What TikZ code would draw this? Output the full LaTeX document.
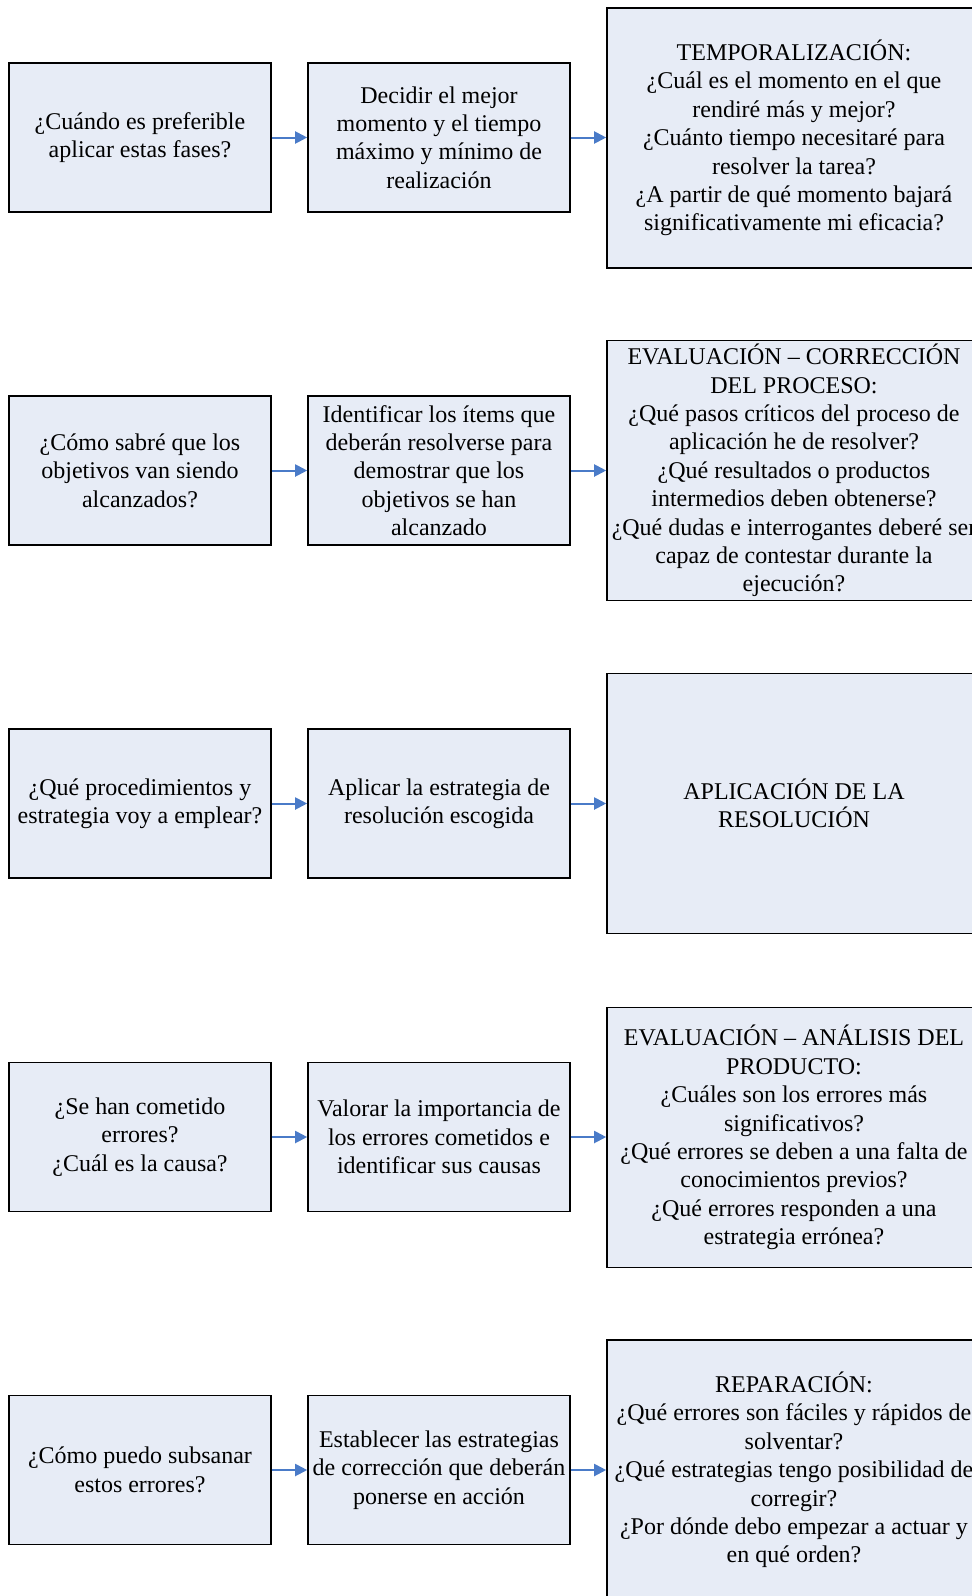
\documentclass[tikz,border=0pt]{standalone}
\usepackage{fontspec}
\setmainfont{Liberation Serif}
\usetikzlibrary{arrows.meta}
\definecolor{boxfill}{HTML}{E7ECF6}
\definecolor{flowblue}{HTML}{4A7BC8}
\tikzset{
  box/.style={draw=black, line width=1.6pt, fill=boxfill, rectangle,
    align=center, inner sep=0pt, font=\fontsize{24}{28.4}\selectfont},
  qbox/.style={box, minimum width=262pt, minimum height=149pt},
  abox/.style={box, minimum width=262pt, minimum height=149pt},
  rbox/.style={box, minimum width=374pt, minimum height=260pt},
  flow/.style={draw=flowblue, line width=2pt,
    -{Triangle[length=12pt, width=12pt]}, shorten >=0pt}
}
\begin{document}
\begin{tikzpicture}[x=1pt, y=-1pt]
  \useasboundingbox (0,0) rectangle (972,1596);
  \clip (0,0) rectangle (972,1596);
  \fill[white] (0,0) rectangle (972,1596);

  % row 1: timing
  \node[qbox] (q1) at (140,137.5) {¿Cuándo es preferible\\aplicar estas fases?};
  \node[abox] (a1) at (439,137.5) {Decidir el mejor\\momento y el tiempo\\máximo y mínimo de\\realización};
  \node[rbox] (r1) at (794,138) {TEMPORALIZACIÓN:\\¿Cuál es el momento en el que\\rendiré más y mejor?\\¿Cuánto tiempo necesitaré para\\resolver la tarea?\\¿A partir de qué momento bajará\\significativamente mi eficacia?};

  % row 2: process evaluation
  \node[qbox] (q2) at (140,470.5) {¿Cómo sabré que los\\objetivos van siendo\\alcanzados?};
  \node[abox] (a2) at (439,470.5) {Identificar los ítems que\\deberán resolverse para\\demostrar que los\\objetivos se han\\alcanzado};
  \node[rbox] (r2) at (794,470.5) {EVALUACIÓN – CORRECCIÓN\\DEL PROCESO:\\¿Qué pasos críticos del proceso de\\aplicación he de resolver?\\¿Qué resultados o productos\\intermedios deben obtenerse?\\¿Qué dudas e interrogantes deberé ser\\capaz de contestar durante la\\ejecución?};

  % row 3: application
  \node[qbox] (q3) at (140,803.5) {¿Qué procedimientos y\\estrategia voy a emplear?};
  \node[abox] (a3) at (439,803.5) {Aplicar la estrategia de\\resolución escogida};
  \node[rbox] (r3) at (794,803.5) {APLICACIÓN DE LA\\RESOLUCIÓN};

  % row 4: product evaluation
  \node[qbox] (q4) at (140,1137) {¿Se han cometido\\errores?\\¿Cuál es la causa?};
  \node[abox] (a4) at (439,1137) {Valorar la importancia de\\los errores cometidos e\\identificar sus causas};
  \node[rbox] (r4) at (794,1137.5) {EVALUACIÓN – ANÁLISIS DEL\\PRODUCTO:\\¿Cuáles son los errores más\\significativos?\\¿Qué errores se deben a una falta de\\conocimientos previos?\\¿Qué errores responden a una\\estrategia errónea?};

  % row 5: repair
  \node[qbox] (q5) at (140,1470) {¿Cómo puedo subsanar\\estos errores?};
  \node[abox] (a5) at (439,1470) {Establecer las estrategias\\de corrección que deberán\\ponerse en acción};
  \node[rbox] (r5) at (794,1470) {REPARACIÓN:\\¿Qué errores son fáciles y rápidos de\\solventar?\\¿Qué estrategias tengo posibilidad de\\corregir?\\¿Por dónde debo empezar a actuar y\\en qué orden?};

  % connectors
  \foreach \i in {1,...,5} {
    \draw[flow] (q\i.east) -- (a\i.west);
    \draw[flow] (a\i.east) -- (r\i.west |- a\i.east);
  }
\end{tikzpicture}
\end{document}
